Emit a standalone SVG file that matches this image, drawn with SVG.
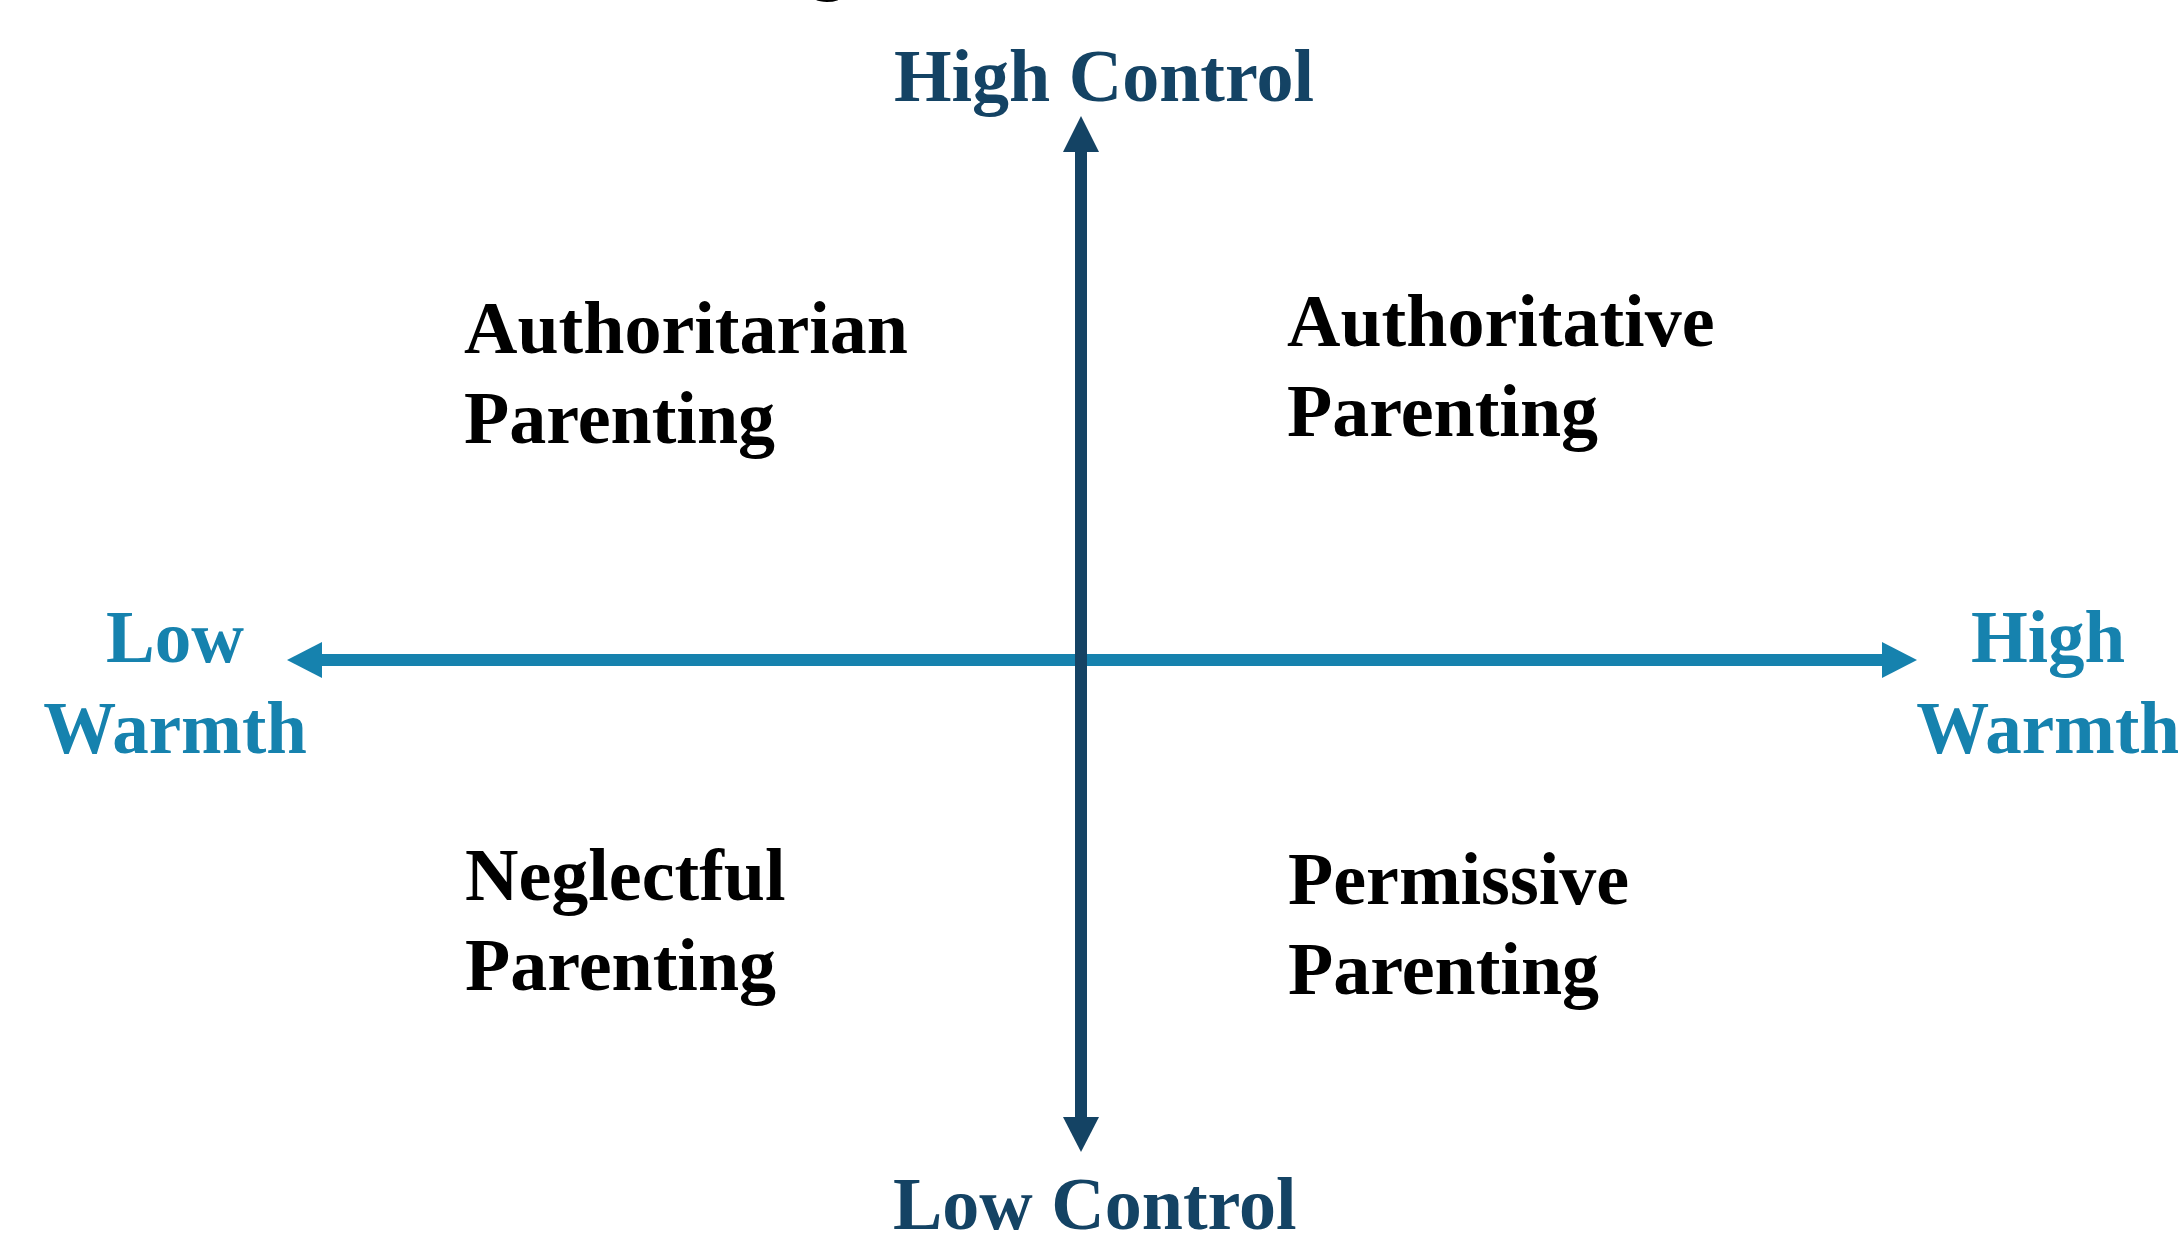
<svg xmlns="http://www.w3.org/2000/svg" width="2178" height="1239" viewBox="0 0 2178 1239">
<style>
  text { font-family: "Liberation Serif", "Times New Roman", serif; font-weight: bold; }
  .ctl { fill: #144364; font-size: 74px; }
  .wrm { fill: #1682ae; font-size: 73px; text-anchor: middle; }
  .quad { fill: #000000; font-size: 74px; }
</style>
<rect width="2178" height="1239" fill="#ffffff"/>
<text x="828" y="-14" class="quad" text-anchor="middle">g</text>
<g id="connectors">
  <g id="warmth-axis">
    <line x1="320" y1="660" x2="1884" y2="660" stroke="#1682ae" stroke-width="12"/>
    <polygon points="287,660 322,642 322,678" fill="#1682ae"/>
    <polygon points="1917,660 1882,642 1882,678" fill="#1682ae"/>
  </g>
  <g id="control-axis">
    <line x1="1081" y1="150" x2="1081" y2="1119" stroke="#144364" stroke-width="12"/>
    <polygon points="1081,116 1063,152 1099,152" fill="#144364"/>
    <polygon points="1081,1152 1063,1117 1099,1117" fill="#144364"/>
  </g>
</g>
<g id="high-control"><text class="ctl" x="894" y="101">High Control</text></g>
<g id="low-control"><text class="ctl" x="893" y="1229">Low Control</text></g>
<g id="low-warmth">
  <text class="wrm" x="175" y="662">Low</text>
  <text class="wrm" x="175" y="753">Warmth</text>
</g>
<g id="high-warmth">
  <text class="wrm" x="2048" y="662">High</text>
  <text class="wrm" x="2048" y="753">Warmth</text>
</g>
<g id="authoritarian">
  <text class="quad" x="464" y="353">Authoritarian</text>
  <text class="quad" x="464" y="443">Parenting</text>
</g>
<g id="authoritative">
  <text class="quad" x="1287" y="346">Authoritative</text>
  <text class="quad" x="1287" y="436">Parenting</text>
</g>
<g id="neglectful">
  <text class="quad" x="465" y="900">Neglectful</text>
  <text class="quad" x="465" y="990">Parenting</text>
</g>
<g id="permissive">
  <text class="quad" x="1288" y="904">Permissive</text>
  <text class="quad" x="1288" y="994">Parenting</text>
</g>
</svg>
